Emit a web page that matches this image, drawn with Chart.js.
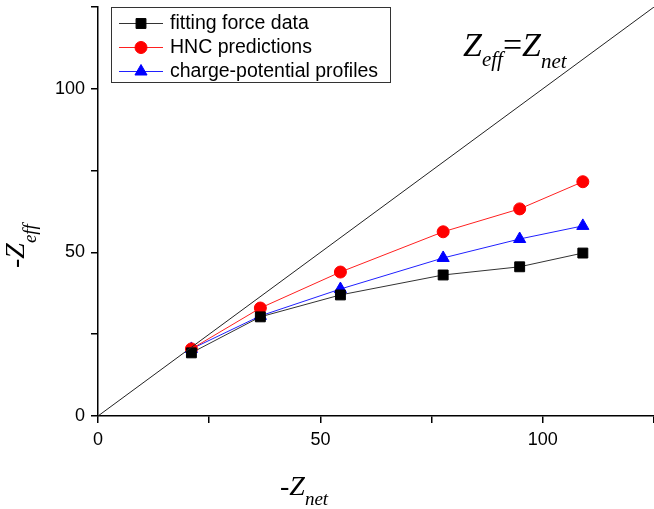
<!DOCTYPE html>
<html>
<head>
<meta charset="utf-8">
<script src="https://cdn.jsdelivr.net/npm/chart.js@4.4.0/dist/chart.umd.min.js"></script>
<style>
html,body{margin:0;padding:0;background:#fff;}
#wrap{width:654px;height:509px;position:relative;}
</style>
</head>
<body>
<div id="wrap"><canvas id="c" width="654" height="509"></canvas></div>
<script>
const zNet = [21, 36.5, 54.5, 77.6, 94.8, 109];
const fittingForce = [19.3, 30.3, 37.0, 43.1, 45.6, 49.8];
const hncPred = [20.5, 33.0, 44.0, 56.3, 63.3, 71.6];
const chargePotential = [20.5, 30.6, 38.8, 48.3, 54.1, 58.1];
const diagonal = [[0, 0], [125, 125]];
const xTickLabels = {0: '0', 50: '50', 100: '100'};
const yTickLabels = {0: '0', 50: '50', 100: '100'};
const seriesNames = ['fitting force data', 'HNC predictions', 'charge-potential profiles'];

const pts = (ys) => zNet.map((x, i) => ({x: x, y: ys[i]}));

const legendPlugin = {
  id: 'customLegend',
  afterDraw(chart) {
    const ctx = chart.ctx;
    ctx.save();
    ctx.strokeStyle = '#333';
    ctx.lineWidth = 1;
    ctx.strokeRect(111.5, 7.5, 279, 75);
    const rows = [23, 47, 71];
    for (let i = 0; i < 3; i++) {
      const ds = chart.data.datasets[i + 1];
      const y = rows[i];
      ctx.strokeStyle = ds.borderColor;
      ctx.lineWidth = 1;
      ctx.beginPath();
      ctx.moveTo(119, y + 0.5);
      ctx.lineTo(163, y + 0.5);
      ctx.stroke();
      ctx.fillStyle = ds.pointBackgroundColor;
      ctx.strokeStyle = ds.pointBorderColor;
      Chart.helpers.drawPoint(ctx, {pointStyle: ds.pointStyle, radius: ds.pointRadius, borderWidth: 1}, 141, y + 0.5);
      ctx.fillStyle = '#000';
      ctx.font = '19.5px "Liberation Sans", Arial, sans-serif';
      ctx.textBaseline = 'middle';
      ctx.textAlign = 'left';
      ctx.fillText(seriesNames[i], 170, y + 1);
    }
    ctx.restore();
  }
};

function drawSubText(ctx, main, sub, x, y, mainSize, subSize, subDrop) {
  ctx.font = 'italic ' + mainSize + 'px "Liberation Serif", "Times New Roman", serif';
  ctx.fillText(main, x, y);
  const w = ctx.measureText(main).width;
  ctx.font = 'italic ' + subSize + 'px "Liberation Serif", "Times New Roman", serif';
  ctx.fillText(sub, x + w, y + subDrop);
  return x + w + ctx.measureText(sub).width;
}

const titlesPlugin = {
  id: 'titles',
  afterDraw(chart) {
    const ctx = chart.ctx;
    ctx.save();
    ctx.fillStyle = '#000';
    ctx.textBaseline = 'alphabetic';
    ctx.textAlign = 'left';
    // x title
    drawSubText(ctx, '-Z', 'net', 280, 495, 28, 19, 10);
    // y title rotated
    ctx.save();
    ctx.translate(24, 268);
    ctx.rotate(-Math.PI / 2);
    drawSubText(ctx, '-Z', 'eff', 0, 0, 28, 19, 12);
    ctx.restore();
    // annotation
    let x = drawSubText(ctx, 'Z', 'eff', 463, 56, 34, 21, 10);
    ctx.font = '34px "Liberation Serif", "Times New Roman", serif';
    ctx.fillText('=', x, 56);
    x += ctx.measureText('=').width;
    drawSubText(ctx, 'Z', 'net', x, 56, 34, 21, 12);
    ctx.restore();
  }
};

new Chart(document.getElementById('c'), {
  type: 'scatter',
  data: {
    datasets: [
      {
        label: 'Zeff=Znet',
        data: diagonal.map(p => ({x: p[0], y: p[1]})),
        showLine: true,
        borderColor: '#222',
        borderWidth: 1,
        pointRadius: 0,
        pointHoverRadius: 0
      },
      {
        label: seriesNames[0],
        data: pts(fittingForce),
        showLine: true,
        borderColor: '#333',
        borderWidth: 1,
        pointStyle: 'rect',
        pointRadius: 7,
        pointBackgroundColor: '#000',
        pointBorderColor: '#000',
        pointBorderWidth: 1
      },
      {
        label: seriesNames[1],
        data: pts(hncPred),
        showLine: true,
        borderColor: '#ff2020',
        borderWidth: 1,
        pointStyle: 'circle',
        pointRadius: 6,
        pointBackgroundColor: '#ff0000',
        pointBorderColor: '#ff0000',
        pointBorderWidth: 1
      },
      {
        label: seriesNames[2],
        data: pts(chargePotential),
        showLine: true,
        borderColor: '#2020ff',
        borderWidth: 1,
        pointStyle: 'triangle',
        pointRadius: 7,
        pointBackgroundColor: '#0000ff',
        pointBorderColor: '#0000ff',
        pointBorderWidth: 1
      }
    ]
  },
  options: {
    responsive: false,
    animation: false,
    events: [],
    layout: {autoPadding: false, padding: {top: 7, right: 0, left: 0, bottom: 0}},
    plugins: {legend: {display: false}, tooltip: {enabled: false}},
    scales: {
      x: {
        type: 'linear',
        min: 0, max: 125,
        afterFit: (s) => { s.height = 93; s.paddingLeft = 0; s.paddingRight = 0; },
        ticks: {
          stepSize: 25,
          autoSkip: false,
          maxRotation: 0,
          padding: 6,
          color: '#000',
          font: {family: '"Liberation Sans", Arial, sans-serif', size: 18},
          callback: (v) => (xTickLabels[v] !== undefined ? xTickLabels[v] : '')
        },
        grid: {display: true, drawOnChartArea: false, drawTicks: true, tickLength: 7, color: '#000', lineWidth: 1.5},
        border: {display: true, color: '#000', width: 1.5}
      },
      y: {
        type: 'linear',
        min: 0, max: 125,
        afterFit: (s) => { s.width = 98; s.paddingTop = 0; s.paddingBottom = 0; },
        ticks: {
          stepSize: 25,
          autoSkip: false,
          padding: 6,
          color: '#000',
          font: {family: '"Liberation Sans", Arial, sans-serif', size: 18},
          callback: (v) => (yTickLabels[v] !== undefined ? yTickLabels[v] : '')
        },
        grid: {display: true, drawOnChartArea: false, drawTicks: true, tickLength: 7, color: '#000', lineWidth: 1.5},
        border: {display: true, color: '#000', width: 1.5}
      }
    }
  },
  plugins: [legendPlugin, titlesPlugin]
});
</script>
</body>
</html>
